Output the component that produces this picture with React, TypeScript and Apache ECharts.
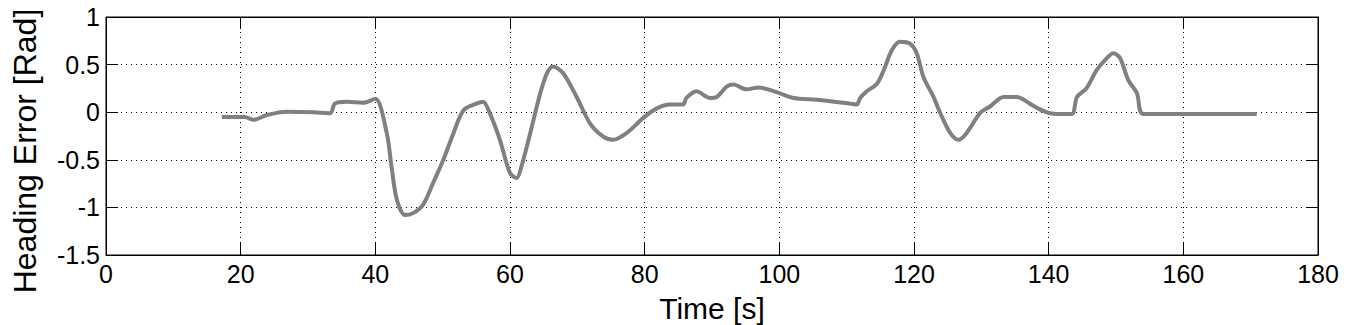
import React, { useEffect, useRef } from "react";
import * as echarts from "echarts";

const times: number[] = [
  17.2, 20.6, 21.9, 23.9, 26.8, 30.8, 33.3, 34.0, 35.7, 38.2, 40.0, 41.7, 42.4, 43.2, 44.4, 45.6,
  47.1, 48.6, 50.1, 51.6, 53.1, 55.0, 56.0, 57.0, 58.5, 60.0, 61.0, 61.7, 63.0, 64.5, 65.5, 66.4,
  67.9, 69.9, 71.9, 73.9, 75.3, 77.3, 79.8, 81.8, 83.8, 85.7, 86.2, 87.7, 89.7, 90.7, 92.2, 93.2,
  95.1, 96.9, 99.6, 102.1, 105.6, 110.5, 111.5, 112.0, 113.0, 114.5, 115.5, 116.7, 117.9, 119.4,
  120.4, 121.4, 122.9, 123.9, 125.4, 126.6, 127.8, 129.8, 131.3, 133.3, 135.3, 137.2, 138.7, 140.2,
  143.4, 144.2, 145.6, 147.1, 148.4, 149.6, 150.6, 151.8, 153.1, 154.1, 170.9,
];
const headingError: number[] = [
  -0.05, -0.05, -0.08, -0.03, 0.005, 0.0, -0.01, 0.09, 0.11, 0.1, 0.14, -0.22, -0.57, -0.92, -1.08, -1.06,
  -0.97, -0.74, -0.5, -0.22, 0.02, 0.09, 0.11, -0.01, -0.29, -0.64, -0.69, -0.57, -0.22, 0.2, 0.41, 0.48,
  0.41, 0.16, -0.12, -0.26, -0.29, -0.22, -0.06, 0.04, 0.08, 0.08, 0.15, 0.22, 0.15, 0.16, 0.27, 0.29,
  0.24, 0.26, 0.21, 0.15, 0.13, 0.09, 0.08, 0.15, 0.22, 0.3, 0.44, 0.65, 0.74, 0.72,
  0.62, 0.37, 0.16, -0.01, -0.22, -0.29, -0.22, -0.01, 0.06, 0.16, 0.16, 0.09, 0.03, -0.01,
  -0.02, 0.16, 0.25, 0.44, 0.55, 0.62, 0.57, 0.34, 0.2, -0.02, -0.02,
];

const xTitle = "Time [s]";
const yTitle = "Heading Error [Rad]";
const FONT = "Liberation Sans, Arial, Helvetica, sans-serif";

export default function App() {
  const ref = useRef<HTMLDivElement>(null);
  useEffect(() => {
    if (!ref.current) return;
    const chart = echarts.init(ref.current, undefined, { renderer: "svg" });
    const data = times.map((t, i) => [t, headingError[i]]);
    const tickCommon = { show: true, inside: true, length: 12, lineStyle: { color: "#000", width: 1 } };
    chart.setOption({
      animation: false,
      backgroundColor: "#fff",
      grid: {
        left: 106, top: 17, right: 33, bottom: 70,
        outerBoundsMode: "none", containLabel: false,
        show: true, borderColor: "#000", borderWidth: 1, backgroundColor: "transparent",
      },
      graphic: [
        {
          type: "text",
          x: 25,
          y: 151,
          rotation: Math.PI / 2,
          style: {
            text: yTitle,
            fontFamily: FONT,
            fontSize: 32,
            fill: "#000",
            align: "center",
            verticalAlign: "middle",
          },
        },
      ],
      xAxis: [
        {
          type: "value",
          min: 0,
          max: 180,
          interval: 20,
          name: xTitle,
          nameLocation: "middle",
          nameGap: 38,
          nameTextStyle: { fontFamily: FONT, fontSize: 30, color: "#000" },
          axisLine: { show: true, onZero: false, lineStyle: { color: "#000", width: 1 } },
          axisTick: tickCommon,
          axisLabel: { fontFamily: FONT, fontSize: 25, color: "#000", margin: 6 },
          splitLine: { show: true, lineStyle: { color: "#000", type: [1, 4], width: 1 } },
        },
        {
          type: "value",
          position: "top",
          min: 0,
          max: 180,
          interval: 20,
          axisLine: { show: true, onZero: false, lineStyle: { color: "#000", width: 1 } },
          axisTick: tickCommon,
          axisLabel: { show: false },
          splitLine: { show: false },
        },
      ],
      yAxis: [
        {
          type: "value",
          min: -1.5,
          max: 1,
          interval: 0.5,
          axisLine: { show: true, onZero: false, lineStyle: { color: "#000", width: 1 } },
          axisTick: tickCommon,
          axisLabel: { fontFamily: FONT, fontSize: 25, color: "#000", margin: 6 },
          splitLine: { show: true, lineStyle: { color: "#000", type: [1, 4], width: 1 } },
        },
        {
          type: "value",
          position: "right",
          min: -1.5,
          max: 1,
          interval: 0.5,
          axisLine: { show: true, onZero: false, lineStyle: { color: "#000", width: 1 } },
          axisTick: tickCommon,
          axisLabel: { show: false },
          splitLine: { show: false },
        },
      ],
      series: [
        {
          type: "line",
          data,
          xAxisIndex: 0,
          yAxisIndex: 0,
          showSymbol: false,
          smooth: 0.3,
          lineStyle: { color: "#808080", width: 4 },
        },
      ],
    });
    return () => chart.dispose();
  }, []);
  return <div ref={ref} style={{ width: 1351, height: 325, position: "absolute", left: 0, top: 0 }} />;
}
